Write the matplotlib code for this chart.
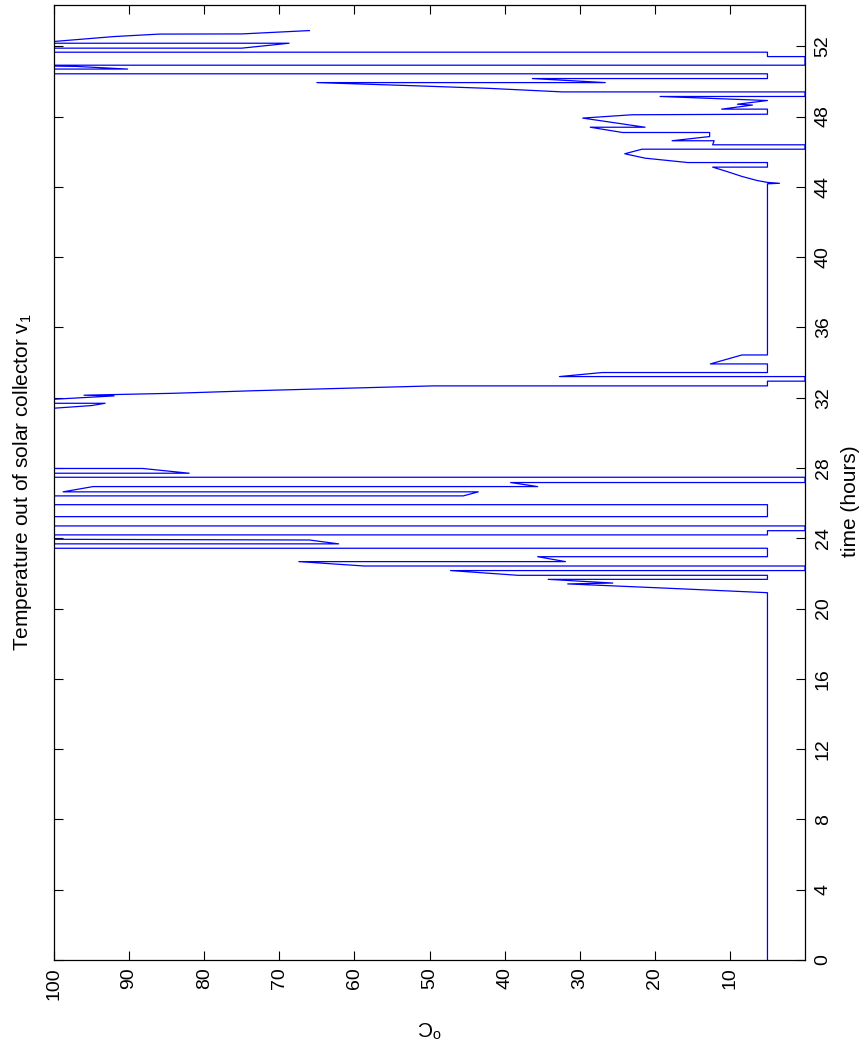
import matplotlib
matplotlib.use("Agg")
import matplotlib.pyplot as plt

plt.rcParams['font.family'] = ['Liberation Sans', 'DejaVu Sans']
plt.rcParams['mathtext.fontset'] = 'custom'
plt.rcParams['mathtext.rm'] = 'Liberation Sans'

# collector outlet temperature trace (hours, deg C)
hours = [0.0, 20.9, 21.15, 21.4, 21.45, 21.66, 21.66, 21.89, 21.89, 22.16,
         22.16, 22.42, 22.42, 22.67, 22.67, 22.95, 22.95, 23.43, 23.43, 23.68,
         23.68, 23.9, 23.94, 24.19, 24.19, 24.43, 24.43, 24.70, 24.70, 25.23,
         25.23, 25.91, 25.91, 26.41, 26.41, 26.64, 26.64, 26.94, 26.94, 27.17,
         27.17, 27.47, 27.47, 27.70, 27.70, 27.97, 27.97, 31.40, 31.55, 31.68,
         31.68, 31.91, 32.10, 32.14, 32.25, 32.40, 32.55, 32.67, 32.67, 32.94,
         32.94, 33.20, 33.20, 33.43, 33.43, 33.92, 33.92, 34.43, 34.43, 44.17,
         44.20, 44.25, 44.36, 44.59, 44.87, 45.12, 45.12, 45.38, 45.38, 45.63,
         45.88, 46.14, 46.14, 46.39, 46.39, 46.62, 46.62, 46.86, 47.09, 47.09,
         47.39, 47.39, 47.91, 48.10, 48.13, 48.42, 48.42, 48.65, 48.70, 48.91,
         49.14, 49.14, 49.40, 49.40, 49.60, 49.75, 49.93, 49.93, 50.16, 50.16,
         50.43, 50.43, 50.70, 50.70, 50.85, 50.87, 50.92, 50.92, 51.41, 51.41,
         51.66, 51.66, 51.89, 51.89, 52.17, 52.17, 52.27, 52.55, 52.69, 52.70,
         52.89]
temp_c = [5, 5, 18, 31.6, 25.6, 34.2, 5, 5, 38.2, 47.2,
          0, 0, 58.7, 67.4, 31.9, 35.6, 5, 5, 100, 100,
          62.1, 66, 100, 100, 5, 5, 0, 0, 100, 100,
          5, 5, 100, 100, 45.5, 43.5, 98.8, 94.8, 35.6, 39.2,
          0, 0, 100, 100, 82, 88.2, 100, 100, 95, 93.2,
          100, 100, 92, 96, 84, 73, 60, 49.5, 5, 5,
          0, 0, 32.7, 27, 5, 5, 12.6, 8.4, 5, 5,
          3.4, 5, 6.4, 8.4, 10.4, 12.3, 5, 5, 15.6, 21.3,
          24, 21.7, 0, 0, 12.3, 12.1, 17.7, 12.7, 12.7, 24.3,
          28.6, 21.3, 29.6, 23, 5, 5, 11.1, 7, 9, 5,
          19.3, 0, 0, 32.3, 42, 52, 65, 26.6, 36.3, 5,
          5, 100, 100, 90.2, 97, 100, 100, 0, 0, 5,
          5, 100, 100, 75, 68.7, 100, 100, 92, 86, 75,
          66]

temp_ticks = [10, 20, 30, 40, 50, 60, 70, 80, 90, 100]
hour_ticks = list(range(0, 53, 4))

fig = plt.figure(figsize=(8.63, 10.48), dpi=100)
ax = fig.add_axes([0.0626, 0.0840, 0.8702, 0.9113])

ax.plot(temp_c, hours, color='blue', lw=0.9)

ax.set_xlim(100, 0)
ax.set_ylim(0, 54.35)
ax.set_xticks(temp_ticks)
ax.set_xticklabels([str(v) for v in temp_ticks], rotation=90, fontsize=14)
ax.set_yticks(hour_ticks)
ax.set_yticklabels([str(v) for v in hour_ticks], rotation=90, fontsize=14, va='center')
ax.yaxis.tick_right()
ax.tick_params(direction='in', length=6.5, width=0.8, top=True, bottom=True,
               left=True, right=True, labelleft=False, labelright=True)
ax.tick_params(axis='x', pad=5)
ax.tick_params(axis='y', pad=7)
for s in ax.spines.values():
    s.set_linewidth(0.9)

mid_y = 0.0840 + 0.9113 / 2
fig.text(0.0255, mid_y, 'Temperature out of solar collector v$_1$', rotation=90,
         ha='center', va='center', fontsize=15)
fig.text(0.985, 0.522, 'time (hours)', rotation=90, ha='center', va='center', fontsize=15)
fig.text(0.0626 + 0.8702 / 2, 0.02, r'$^{\rm o}$C', rotation=180, ha='center', va='center',
         fontsize=15)

fig.savefig('out.png', dpi=100)
